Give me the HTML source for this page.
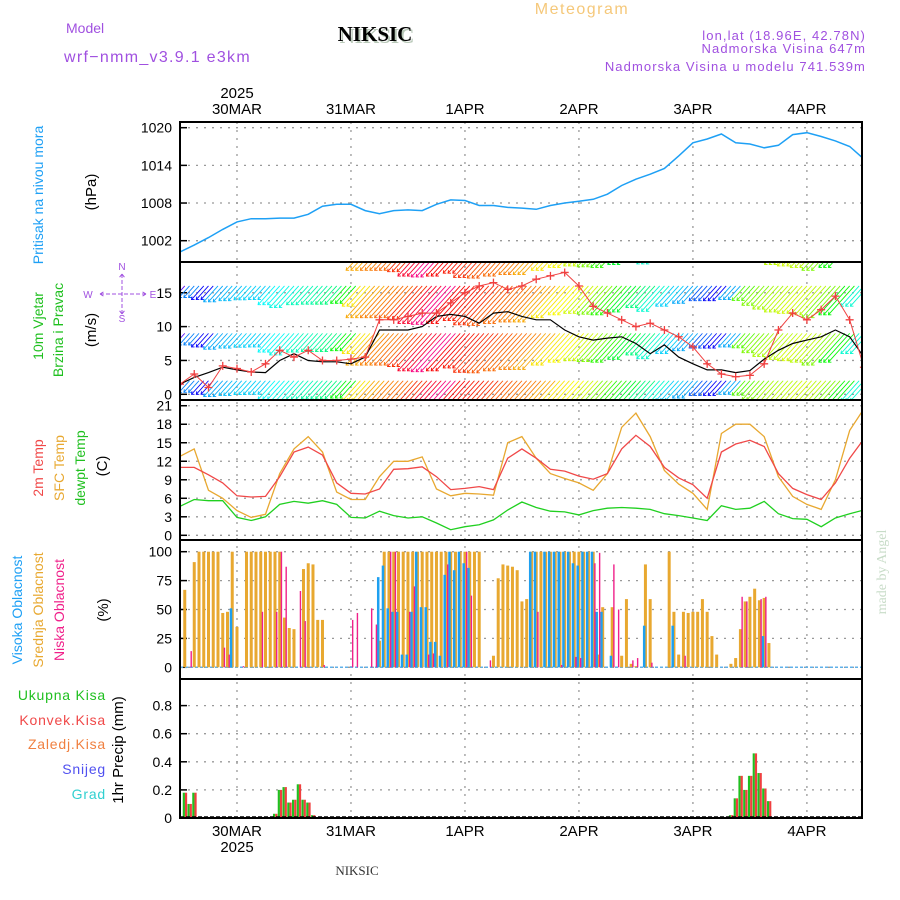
<!DOCTYPE html>
<html><head><meta charset="utf-8"><style>
html,body{margin:0;padding:0;background:#fff;}
svg{display:block;font-family:"Liberation Sans",sans-serif;}
</style></head><body>
<svg id="chart" width="900" height="900" viewBox="0 0 900 900">
<text x="582" y="14" font-size="16" fill="#f5c87a" text-anchor="middle" letter-spacing="1.5">Meteogram</text>
<text x="377" y="43" font-size="21" font-weight="bold" font-family="Liberation Serif, serif" fill="#b8c8b8" text-anchor="middle">NIKSIC</text>
<text x="375" y="41" font-size="21" font-weight="bold" font-family="Liberation Serif, serif" fill="#000" text-anchor="middle">NIKSIC</text>
<text x="66" y="33" font-size="14" fill="#a050e0">Model</text>
<text x="64" y="62" font-size="16" fill="#a050e0" letter-spacing="1.3">wrf−nmm_v3.9.1 e3km</text>
<text x="866" y="40" font-size="13" fill="#a050e0" text-anchor="end" letter-spacing="1.1">lon,lat (18.96E, 42.78N)</text>
<text x="866" y="53" font-size="13" fill="#a050e0" text-anchor="end" letter-spacing="1.1">Nadmorska Visina 647m</text>
<text x="866" y="71" font-size="13" fill="#a050e0" text-anchor="end" letter-spacing="1.1">Nadmorska Visina u modelu 741.539m</text>
<text x="237" y="98" font-size="15" fill="#000" text-anchor="middle">2025</text>
<text x="237" y="852" font-size="15" fill="#000" text-anchor="middle">2025</text>
<text x="357" y="875" font-size="13" font-family="Liberation Serif, serif" fill="#333" text-anchor="middle">NIKSIC</text>
<text transform="translate(886,572) rotate(-90)" font-size="14" font-family="Liberation Serif, serif" fill="#c8dcc8" text-anchor="middle">made by Angel</text>
<g id="labels"></g>
<g id="plots"></g>
</svg>
<script>
// ---- data (hour offsets from 29MAR 12UTC, 3-hourly) ----
const hours3 = [0,3,6,9,12,15,18,21,24,27,30,33,36,39,42,45,48,51,54,57,60,63,66,69,72,75,78,81,84,87,90,93,96,99,102,105,108,111,114,117,120,123,126,129,132,135,138,141,144];
const dayLabels = ["30MAR","31MAR","1APR","2APR","3APR","4APR"];
const dayHours = [12,36,60,84,108,132];
const pressure = [1000.2,1001.3,1002.5,1003.8,1005,1005.5,1005.5,1005.6,1005.6,1006.2,1007.5,1007.8,1007.8,1006.8,1006.3,1006.8,1006.9,1006.8,1007.8,1008.5,1008.4,1007.6,1007.6,1007.3,1007.2,1007.0,1007.6,1008,1008.3,1008.6,1009.4,1010.8,1011.8,1012.6,1013.5,1015.5,1017.6,1018.2,1019.0,1017.6,1017.4,1016.8,1017.2,1018.9,1019.2,1018.6,1017.9,1017,1015];
const pressureTicks = [1002,1008,1014,1020];
const windSpeed = [1.5,2.5,3.2,4.0,3.6,3.3,3.2,5,6,5,4.8,4.8,4.5,5.5,9.5,9.5,9.5,10,11.5,11.8,11.5,10.5,12,12.2,11.5,11,11,9.5,8.5,8,8.3,8.5,7.5,6,7.3,5.5,4.5,3.6,3.6,3.2,3.5,5.2,6.5,7.5,8,8.5,9.5,8.5,5.5];
const windGust = [1.5,3,1,4.2,3.8,3.3,4.5,6.5,5.5,6.5,5,5,5.2,5.5,11,11,11.5,12,12,13.5,15,16,16.5,15.5,16,17,17.5,18,16,13,12,11,10,10.5,9.5,8.5,7,4.5,3,2.6,2.8,4.5,9.5,12,11,12.5,14.5,11,4];
const windDirHue = [260,210,240,200,195,190,190,180,175,165,160,150,120,55,40,30,25,10,350,330,0,5,10,20,25,30,40,55,60,70,90,110,130,150,170,190,200,220,240,200,100,90,80,75,70,75,90,120,170];
const windTicks = [0,5,10,15];
const windRows = [2,9,16,23];
const temp2m = [11,11,9.8,8.5,6.4,6.2,6.3,9.5,13.5,14.3,13,8.5,6.8,6.7,7.5,10.7,10.8,11.1,9.5,7.4,7.6,7.9,7.4,12.5,14,12.5,10.7,10.4,9.6,9.1,10,14,16.2,14.4,11,9.3,8.2,6,13.5,14.8,15.4,14.4,10,7.6,6.6,5.8,8.5,12.5,15.6];
const tempSfc = [12.8,14,7.3,6,4,2.9,3.4,10,14,16,13.5,7,5.8,5.8,9.5,12,12,12.7,7.5,6.4,6.8,6.7,6.5,15,16,12.5,10,9.2,8.5,7.3,10,17.5,19.8,16,10.5,8.3,6.8,4.2,16.5,18,18,16,9.5,6.3,5,4.2,9,17,20.5];
const dewpt = [4.7,5.8,5.6,5.6,2.9,2.4,3,5,5.5,5.2,5.6,5,2.9,2.8,3.9,3.2,2.8,3,2,0.9,1.4,1.7,2.5,4.1,5.4,4.5,3.9,3.8,3.3,4,4.4,4.5,4.4,4.2,3.5,3.2,2.8,2.4,4.8,4.2,4.4,5.5,3.5,2.7,2.6,1.4,2.8,3.5,4.1];
const tempTicks = [0,3,6,9,12,15,18,21];
// hourly cloud cover (h0..h144)
const cloudMid = [0,67,0,91,100,100,100,100,100,47,48,100,35,0,100,100,100,100,100,100,100,100,43,34,33,0,85,90,89,41,41,0,0,0,0,0,0,0,0,0,0,0,23,100,100,100,100,100,100,100,100,100,100,100,100,100,100,100,100,100,100,100,100,100,0,0,10,77,89,88,87,84,57,59,100,100,100,100,100,100,100,100,100,100,100,100,100,100,11,52,0,52,0,10,59,3,1,0,89,59,0,0,0,100,48,11,48,47,48,48,59,48,27,11,0,0,3,8,33,57,61,68,58,60,21,0,0,0,0,0,0,0,0,0,0,0,0,0,0,0,0,0,0,0,0];
const cloudHigh = [0,0,0,0,0,0,0,0,0,0,0,51,0,0,0,0,0,0,0,0,0,0,0,0,0,0,0,0,0,0,0,0,0,0,0,0,0,0,0,0,0,0,78,88,51,48,48,11,11,48,100,52,52,22,22,10,80,100,84,100,90,86,0,0,0,0,0,0,0,0,0,0,0,0,100,100,0,100,100,100,100,100,100,90,88,100,100,100,48,48,0,10,0,0,0,0,0,0,36,0,0,0,0,0,36,0,0,0,0,0,0,0,0,0,0,0,0,0,0,0,0,0,0,27,0,0,0,0,0,0,0,0,0,0,0,0,0,0,0,0,0,0,0,0,0];
const cloudLow = [0,0,14,0,0,0,0,0,0,17,11,0,0,1,0,0,0,48,0,0,48,100,87,0,0,66,40,0,0,0,2,0,0,0,0,0,41,47,0,0,51,37,0,0,100,100,0,0,48,70,0,0,11,12,0,0,89,0,0,0,100,62,0,0,0,6,0,0,0,0,0,0,0,0,0,48,0,0,0,0,2,0,0,9,8,0,0,90,99,0,0,89,50,0,0,6,8,0,0,4,0,0,0,0,0,0,10,0,0,0,0,0,0,0,0,0,0,0,61,57,0,0,59,61,0,0,0,0,0,0,0,0,0,0,0,0,0,0,0,0,0,0,0,0,0];
const cloudTicks = [0,25,50,75,100];
const precipHours = [1,2,3,20,21,22,23,24,25,26,27,28,116,117,118,119,120,121,122,123,124];
const precipTotal = [0.18,0.1,0.18,0.03,0.2,0.22,0.11,0.13,0.24,0.13,0.11,0.02,0.02,0.14,0.3,0.2,0.3,0.46,0.32,0.21,0.12];
const precipConv = [0.18,0.1,0.18,0.03,0.2,0.22,0.11,0.13,0.24,0.13,0.11,0.02,0.02,0.14,0.3,0.2,0.3,0.46,0.32,0.21,0.12];
const precipTicks = [0,0.2,0.4,0.6,0.8];

// ---- geometry ----
const X0=180, X1=862, HMAX=143.6;
const xs = h => X0 + (X1-X0)*h/HMAX;
const yP = v => 127.7 + (1020-v)*(240.7-127.7)/18;
const yW = v => 394.3 - v*6.77;
const yT = v => 535.3 - v*6.17;
const yC = v => 667.3 - v*1.156;
const yR = v => 818 - v*140.5;
const panels = [{n:"pressure",t:122,b:262},{n:"wind",t:262,b:400},{n:"temperature",t:400,b:540},{n:"cloud",t:540,b:679},{n:"precip",t:679,b:818}];

const NS="http://www.w3.org/2000/svg";
const plots=document.getElementById('plots');
const labels=document.getElementById('labels');
function mk(tag, attrs, parent){const e=document.createElementNS(NS,tag);for(const k in attrs)e.setAttribute(k,attrs[k]);(parent||plots).appendChild(e);return e;}

const defs=mk('defs',{});
panels.forEach(p=>{const c=mk('clipPath',{id:'clip-'+p.n},defs);mk('rect',{x:X0,y:p.t,width:X1-X0,height:p.b-p.t},c);});

function hgrid(ticks, yf, fmt, name){
  ticks.forEach(v=>{
    const y=yf(v);
    const g=mk('line',{x1:X0,x2:X1,y1:y,y2:y,stroke:'#999','stroke-width':1.3,'stroke-dasharray':'2 6'});
    
    
    const tk=mk('line',{x1:X0,x2:X0+7,y1:y,y2:y,stroke:'#000','stroke-width':1.5});
    
    
    const t=mk('text',{x:X0-8,y:y+5,'font-size':14,'text-anchor':'end',fill:'#000'});
    t.textContent=fmt(v);
    
    
  });
}
hgrid(pressureTicks,yP,v=>String(v),'pressure-axis');
hgrid(windTicks,yW,v=>String(v),'wind-axis');
hgrid(tempTicks,yT,v=>String(v),'temp-axis');
hgrid(cloudTicks,yC,v=>String(v),'cloud-axis');
hgrid(precipTicks,yR,v=>v===0?'0':v.toFixed(1),'precip-axis');

dayHours.forEach((h,i)=>{
  const x=xs(h);
  const g=mk('line',{x1:x,x2:x,y1:122,y2:818,stroke:'#999','stroke-width':1.3,'stroke-dasharray':'2 6'});
  
  
  const t=mk('text',{x:x,y:114,'font-size':15,'text-anchor':'middle',fill:'#000'});
  t.textContent=dayLabels[i];
  
  
  const b=mk('text',{x:x,y:836,'font-size':15,'text-anchor':'middle',fill:'#000'});
  b.textContent=dayLabels[i];
  
  
});

function poly(hs, vals, yf, color, name, clip, w){
  const pts=hs.map((h,i)=>xs(h).toFixed(1)+','+yf(vals[i]).toFixed(1)).join(' ');
  const p=mk('polyline',{points:pts,fill:'none',stroke:color,'stroke-width':w||1.3,'clip-path':'url(#clip-'+clip+')'});
  
  
  return p;
}
poly(hours3,pressure,yP,'#1ea0f5','pressure-line','pressure',1.5);

// wind arrows
const wg=mk('g',{'clip-path':'url(#clip-wind)'});


windRows.forEach(lvl=>{
  const y0=yW(lvl);
  hours3.forEach((h,i)=>{
    const L=4*windSpeed[i]+6;
    const col='hsl('+windDirHue[i]+',95%,50%)';
    [-1,0,1].forEach(o=>{
      const x=xs(h+o);
      const x2=x-0.65*L, y2=y0+0.72*L;
      const ln=mk('line',{x1:x,y1:y0,x2:x2,y2:y2,stroke:col,'stroke-width':0.9},wg);
      
      
      const hd=mk('polyline',{points:(x2+3)+','+(y2)+' '+x2+','+y2+' '+(x2+0.5)+','+(y2-3),fill:'none',stroke:col,'stroke-width':0.9},wg);
      
      
    });
  });
});
poly(hours3,windSpeed,yW,'#000','wind-speed-line','wind',1.2);
poly(hours3,windGust,yW,'#f04040','wind-gust-line','wind',1);
hours3.forEach((h,i)=>{
  const x=xs(h), y=yW(windGust[i]);
  const m=mk('path',{d:'M'+(x-4)+' '+y+'h8M'+x+' '+(y-4)+'v8',stroke:'#f04040','stroke-width':1.3,'clip-path':'url(#clip-wind)'});
  
  
});

poly(hours3,tempSfc,yT,'#e8a830','sfc-temp-line','temperature',1.3);
poly(hours3,temp2m,yT,'#f04848','temp-2m-line','temperature',1.3);
poly(hours3,dewpt,yT,'#20d020','dewpoint-line','temperature',1.3);

const bl=mk('line',{x1:X0,x2:X1,y1:yC(0),y2:yC(0),stroke:'#60b0e8','stroke-width':1.5,'stroke-dasharray':'3 2'});


cloudMid.forEach((v,h)=>{
  if(!v)return; const x=xs(h);
  const r=mk('rect',{x:x-1.5,y:yC(v),width:3,height:yC(0)-yC(v),fill:'#e8a830','clip-path':'url(#clip-cloud)'});
  
  
});
cloudHigh.forEach((v,h)=>{
  if(!v)return; const x=xs(h);
  const r=mk('rect',{x:x-2.5,y:yC(v),width:2.5,height:yC(0)-yC(v),fill:'#1ea0f0','clip-path':'url(#clip-cloud)'});
  
  
});
cloudLow.forEach((v,h)=>{
  if(!v)return; const x=xs(h);
  const r=mk('rect',{x:x+1,y:yC(v),width:1.4,height:yC(0)-yC(v),fill:'#f0208a','clip-path':'url(#clip-cloud)'});
  
  
});

precipHours.forEach((h,i)=>{
  const x=xs(h);
  const g=mk('rect',{x:x-2,y:yR(precipTotal[i]),width:2.2,height:yR(0)-yR(precipTotal[i]),fill:'#20c020'});
  
  
  const r=mk('rect',{x:x+0.2,y:yR(precipConv[i]),width:2.2,height:yR(0)-yR(precipConv[i]),fill:'#f04040'});
  
  
});
const pb=mk('line',{x1:X0,x2:X1,y1:817,y2:817,stroke:'#000','stroke-width':1.5,'stroke-dasharray':'4 2'});



panels.forEach(p=>{
  const r=mk('rect',{x:X0,y:p.t,width:X1-X0,height:p.b-p.t,fill:'none',stroke:'#000','stroke-width':2});
  
  
});

function vlab(x,yc,txt,col,name,size){
  const t=mk('text',{transform:'translate('+x+','+yc+') rotate(-90)','font-size':size||14,'text-anchor':'middle',fill:col},labels);
  t.textContent=txt;
  
  
}
vlab(43,195,'Pritisak na nivou mora','#1ea0f5','pressure-title');
vlab(96,192,'(hPa)','#000','pressure-unit',15);
vlab(43,326,'10m Vjetar','#20c020','wind-title-1');
vlab(63,330,'Brzina i Pravac','#20c020','wind-title-2');
vlab(96,330,'(m/s)','#000','wind-unit',15);
vlab(43,468,'2m Temp','#f04848','temp-2m-title');
vlab(64,468,'SFC Temp','#e8a830','sfc-temp-title');
vlab(85,468,'dewpt Temp','#20c020','dewpoint-title');
vlab(107,466,'(C)','#000','temp-unit',15);
vlab(22,610,'Visoka Oblacnost','#1ea0f5','cloud-high-title');
vlab(43,610,'Srednja Oblacnost','#e8a830','cloud-mid-title');
vlab(64,610,'Niska Oblacnost','#f0208a','cloud-low-title');
vlab(108,610,'(%)','#000','cloud-unit',15);
vlab(123,750,'1hr Precip (mm)','#000','precip-title',15);
[['Ukupna Kisa','#20c020',700],['Konvek.Kisa','#f04848',725],['Zaledj.Kisa','#f08040',749],['Snijeg','#5050f0',774],['Grad','#30d0d0',799]].forEach(a=>{
  const t=mk('text',{x:106,y:a[2],'font-size':14,'text-anchor':'end',fill:a[1],'letter-spacing':'0.8'},labels);
  t.textContent=a[0];
  
  
});
const cp=mk('g',{fill:'#a050e0','font-size':10,stroke:'none'},labels);


[['N',122,270],['S',122,322],['W',88,298],['E',153,298]].forEach(a=>{
  const t=mk('text',{x:a[1],y:a[2],'text-anchor':'middle'},cp);t.textContent=a[0];
  
  
});
const cl=mk('path',{d:'M100 294h46M122 274v40M100 294l5-3M100 294l5 3M146 294l-5-3M146 294l-5 3M122 274l-3 4M122 274l3 4M122 314l-3-4M122 314l3-4',stroke:'#a050e0','stroke-width':1,'stroke-dasharray':'4 2',fill:'none'},cp);


</script>
</body></html>
